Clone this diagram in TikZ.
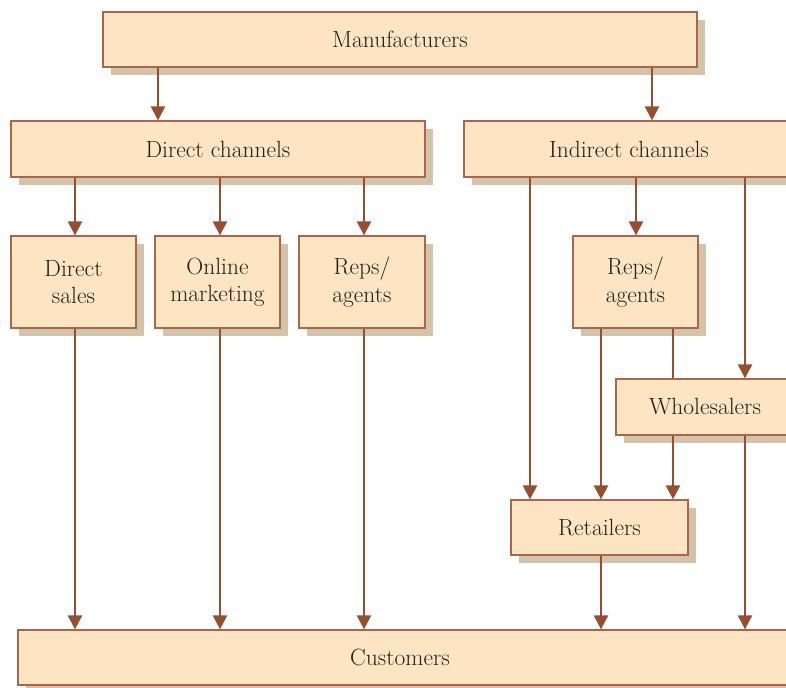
\documentclass[tikz,border=0pt]{standalone}
\usetikzlibrary{arrows.meta,shadows}
\definecolor{boxfill}{HTML}{FDE5C3}
\definecolor{boxline}{HTML}{A9664A}
\definecolor{shadecol}{HTML}{D3C3AB}
\definecolor{flowcol}{HTML}{964F2E}
\definecolor{inkcol}{HTML}{231F1C}
\begin{document}
\begin{tikzpicture}[x=0.75pt,y=-0.75pt,
  chan/.style={draw=boxline,line width=0.9pt,fill=boxfill,inner sep=0pt,
    align=center,text=inkcol,font=\fontsize{17.6}{20.5}\selectfont,
    drop shadow={fill=shadecol,opacity=1,shadow xshift=6pt,shadow yshift=-6pt}},
  lbl/.style={text=inkcol,font=\fontsize{17.6}{20.5}\selectfont,inner sep=0pt},
  flow/.style={draw=flowcol,line width=1.8pt,-{Triangle[length=10.5pt,width=10.5pt]}},
  link/.style={draw=flowcol,line width=1.8pt}]
\useasboundingbox (0,0) rectangle (786,688);
\clip (0,0) rectangle (786,688);

% channel boxes
\node[chan,minimum width=594*0.75pt,minimum height=55*0.75pt] (man) at (400,39.5) {Manufacturers};
\node[chan,minimum width=414*0.75pt,minimum height=56*0.75pt] (dc) at (218,149) {Direct channels};
\node[chan,minimum width=330*0.75pt,minimum height=56*0.75pt] (ic) at (629,149) {Indirect channels};
\node[chan,minimum width=125*0.75pt,minimum height=92*0.75pt] (ds) at (73.5,282) {Direct\\sales};
\node[chan,minimum width=125*0.75pt,minimum height=92*0.75pt] (om) at (217.5,282) {Online\\marketing};
\node[chan,minimum width=126*0.75pt,minimum height=92*0.75pt] (rl) at (362,282) {Reps/\\agents};
\node[chan,minimum width=125*0.75pt,minimum height=92*0.75pt] (rr) at (635.5,282) {Reps/\\agents};
\node[chan,minimum width=178*0.75pt,minimum height=56*0.75pt] (wh) at (705,407) {Wholesalers};
\node[chan,minimum width=177*0.75pt,minimum height=55*0.75pt] (rt) at (599.5,527.5) {Retailers};
\node[chan,minimum width=782*0.75pt,minimum height=55*0.75pt] (cu) at (409,657.5) {};
\node[lbl] (culbl) at (400,657.5) {Customers};

% connector columns
\coordinate (ca) at (158,0);
\coordinate (cb) at (652,0);
\coordinate (c1) at (75,0);
\coordinate (c2) at (220,0);
\coordinate (c3) at (364,0);
\coordinate (d1) at (530,0);
\coordinate (d2) at (636,0);
\coordinate (d3) at (745,0);
\coordinate (e1) at (601,0);
\coordinate (e2) at (673,0);

% connectors
\draw[flow] (man.south -| ca) -- (dc.north -| ca);
\draw[flow] (man.south -| cb) -- (ic.north -| cb);
\draw[flow] (dc.south -| c1) -- (ds.north -| c1);
\draw[flow] (dc.south -| c2) -- (om.north -| c2);
\draw[flow] (dc.south -| c3) -- (rl.north -| c3);
\draw[flow] (ds.south -| c1) -- (cu.north -| c1);
\draw[flow] (om.south -| c2) -- (cu.north -| c2);
\draw[flow] (rl.south -| c3) -- (cu.north -| c3);
\draw[flow] (ic.south -| d1) -- (rt.north -| d1);
\draw[flow] (ic.south -| d2) -- (rr.north -| d2);
\draw[flow] (ic.south -| d3) -- (wh.north -| d3);
\draw[flow] (rr.south -| e1) -- (rt.north -| e1);
\draw[link] (rr.south -| e2) -- (wh.north -| e2);
\draw[flow] (wh.south -| e2) -- (rt.north -| e2);
\draw[flow] (wh.south -| d3) -- (cu.north -| d3);
\draw[flow] (rt.south -| e1) -- (cu.north -| e1);
\end{tikzpicture}
\end{document}
